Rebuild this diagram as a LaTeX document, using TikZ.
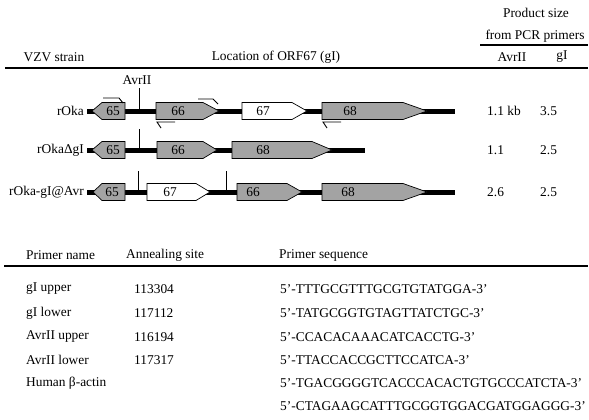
\documentclass[tikz,border=0pt]{standalone}
\usepackage{fontspec}
\setmainfont{Liberation Serif}
\usepackage{tikz}

\definecolor{orfgray}{gray}{0.64}

% ORF box: flat end, start of head, tip, row, fill
\newcommand{\orf}[5]{\draw[orf,fill=#5] (#1,#4-8.5) -- (#2,#4-8.5) -- (#3,#4) -- (#2,#4+8.5) -- (#1,#4+8.5) -- cycle;}

\begin{document}
\begin{tikzpicture}[x=1pt,y=-1pt,
	every node/.style={font=\fontsize{13.4}{15}\selectfont,inner sep=0pt},
	backbone/.style={line width=5pt},
	orf/.style={draw,line width=0.7pt},
	site/.style={line width=0.9pt},
	primer/.style={line width=0.9pt},
	rule/.style={line width=1.1pt}]

	\useasboundingbox (0,0) rectangle (589,420);

	% header
	\node (prodsize) at (536,13) {Product size};
	\node (fromprimers) at (535,36) {from PCR primers};
	\draw[rule] (480,45) -- (588,45);
	\node (strain) at (54,57) {VZV strain};
	\node (location) at (276,57) {Location of ORF67 (gI)};
	\node (avrhead) at (512,57) {AvrII};
	\node (gihead) at (562,57) {gI};
	\draw[rule] (5,68) -- (588,68);

	% rOka
	\node[anchor=east] (roka) at (84,111) {rOka};
	\draw[backbone] (87,111) -- (455,111);
	\node (avr) at (137,80) {AvrII};
	\draw[site] (139,88) -- (139,111);
	\orf{125}{102}{92}{111}{orfgray}
	\orf{156}{203}{219}{111}{orfgray}
	\orf{242}{292}{307}{111}{white}
	\orf{322}{403}{427}{111}{orfgray}
	\node (a65) at (113,111) {65};
	\node (a66) at (178,111) {66};
	\node (a67) at (263,111) {67};
	\node (a68) at (350,111) {68};
	\draw[primer] (103,98) -- (119,98) -- (123,103);
	\draw[primer] (198,99) -- (213,99) -- (218,104);
	\draw[primer] (175,122) -- (157,122) -- (161,128);
	\draw[primer] (341,122) -- (323,122) -- (327,128);
	\node[anchor=west] (avr1) at (487,111) {1.1 kb};
	\node[anchor=west] (gi1) at (540,111) {3.5};

	% rOka delta gI
	\node[anchor=east] (rokadel) at (84,150) {rOkaΔgI};
	\draw[backbone] (87,150) -- (365,150);
	\draw[site] (139,129) -- (139,150);
	\orf{125}{102}{92}{150}{orfgray}
	\orf{157}{203}{217}{150}{orfgray}
	\orf{232}{312}{332}{150}{orfgray}
	\node (b65) at (113,150) {65};
	\node (b66) at (178,150) {66};
	\node (b68) at (263,150) {68};
	\node[anchor=west] (avr2) at (487,150) {1.1};
	\node[anchor=west] (gi2) at (540,150) {2.5};

	% rOka-gI@Avr
	\node[anchor=east] (rokaavr) at (84,192) {rOka-gI@Avr};
	\draw[backbone] (87,192) -- (455,192);
	\draw[site] (138,171) -- (138,192);
	\draw[site] (226,171) -- (226,192);
	\orf{125}{102}{93}{192}{orfgray}
	\orf{147}{196}{210}{192}{white}
	\orf{237}{287}{302}{192}{orfgray}
	\orf{322}{403}{427}{192}{orfgray}
	\node (c65) at (112,192) {65};
	\node (c67) at (170,192) {67};
	\node (c66) at (253,192) {66};
	\node (c68) at (348,192) {68};
	\node[anchor=west] (avr3) at (487,192) {2.6};
	\node[anchor=west] (gi3) at (540,192) {2.5};

	% primer table
	\node[anchor=west] (namehead) at (26,255) {Primer name};
	\node[anchor=west] (sitehead) at (126,255) {Annealing site};
	\node[anchor=west] (seqhead) at (279,255) {Primer sequence};
	\draw[rule] (4,266) -- (588,266);

	\node[anchor=west] (giup) at (26,289) {gI upper};
	\node[anchor=west] (giupsite) at (134,289) {113304};
	\node[anchor=west] (giupseq) at (280,289) {5’-TTTGCGTTTGCGTGTATGGA-3’};

	\node[anchor=west] (gilow) at (26,313) {gI lower};
	\node[anchor=west] (gilowsite) at (134,313) {117112};
	\node[anchor=west] (gilowseq) at (280,313) {5’-TATGCGGTGTAGTTATCTGC-3’};

	\node[anchor=west] (avrup) at (26,337) {AvrII upper};
	\node[anchor=west] (avrupsite) at (134,337) {116194};
	\node[anchor=west] (avrupseq) at (280,337) {5’-CCACACAAACATCACCTG-3’};

	\node[anchor=west] (avrlow) at (26,360) {AvrII lower};
	\node[anchor=west] (avrlowsite) at (134,360) {117317};
	\node[anchor=west] (avrlowseq) at (280,360) {5’-TTACCACCGCTTCCATCA-3’};

	\node[anchor=west] (actin) at (26,383) {Human β-actin};
	\node[anchor=west] (actinfw) at (280,383) {5’-TGACGGGGTCACCCACACTGTGCCCATCTA-3’};
	\node[anchor=west] (actinrv) at (280,406) {5’-CTAGAAGCATTTGCGGTGGACGATGGAGGG-3’};
\end{tikzpicture}
\end{document}
